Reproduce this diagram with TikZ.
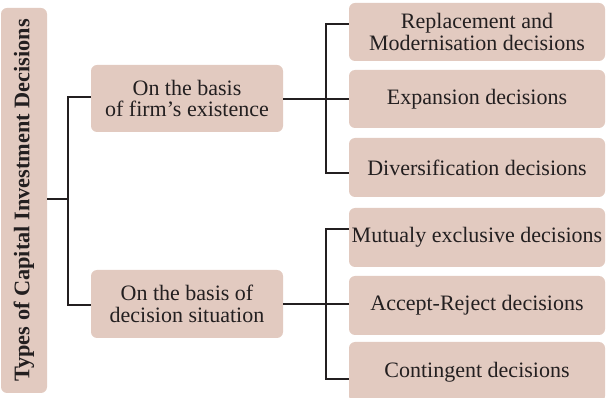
\documentclass[tikz,border=0pt]{standalone}
\usepackage{fontspec}
\setmainfont{Liberation Serif}
\definecolor{boxfill}{RGB}{226,202,192}
\definecolor{ink}{RGB}{35,31,32}
\begin{document}
\begin{tikzpicture}[x=1pt,y=-1pt,
  box/.style={fill=boxfill, rounded corners=6pt, inner sep=1pt, align=center,
    text=ink, font=\fontsize{22}{21.5}\selectfont},
  conn/.style={draw=ink, line width=1.2pt}]
\useasboundingbox (0,0) rectangle (606,398);
\begin{scope}
\clip (0,0) rectangle (606,398);
\node[box, rotate=90, minimum width=385pt, minimum height=46pt,
  font=\fontsize{22.3}{22}\selectfont\bfseries] (T) at (24,200.5) {Types of Capital Investment Decisions};
\node[box, minimum width=192pt, minimum height=67pt] (A) at (187,98.5) {On the basis\\of firm’s existence};
\node[box, minimum width=192pt, minimum height=68pt] (B) at (187,304) {On the basis of\\decision situation};
\node[box, minimum width=256pt, minimum height=58pt] (R1) at (477,32) {Replacement and\\Modernisation decisions};
\node[box, minimum width=256pt, minimum height=58pt] (R2) at (477,99) {Expansion decisions};
\node[box, minimum width=256pt, minimum height=59pt] (R3) at (477,167.5) {Diversification decisions};
\node[box, minimum width=256pt, minimum height=59pt] (R4) at (477,237.5) {Mutualy exclusive decisions};
\node[box, minimum width=256pt, minimum height=59pt] (R5) at (477,305.5) {Accept-Reject decisions};
\node[box, minimum width=256pt, minimum height=60pt] (R6) at (477,372) {Contingent decisions};
\end{scope}
\coordinate (lt) at (68,97);
\coordinate (lb) at (68,305);
\coordinate (um) at (326,99);
\coordinate (ut) at (326,24);
\coordinate (ub) at (326,173);
\coordinate (dm) at (326,304);
\coordinate (dt) at (326,229);
\coordinate (db) at (326,379);
\draw[conn] (T.south |- 0,199) -- (lt |- 0,199);
\draw[conn] (A.west |- lt) -- (lt) -- (lb) -- (B.west |- lb);
\draw[conn] (A.east |- um) -- (um) -- (R2.west |- um);
\draw[conn] (R1.west |- ut) -- (ut) -- (ub) -- (R3.west |- ub);
\draw[conn] (B.east |- dm) -- (dm) -- (R5.west |- dm);
\draw[conn] (R4.west |- dt) -- (dt) -- (db) -- (R6.west |- db);
\end{tikzpicture}
\end{document}
